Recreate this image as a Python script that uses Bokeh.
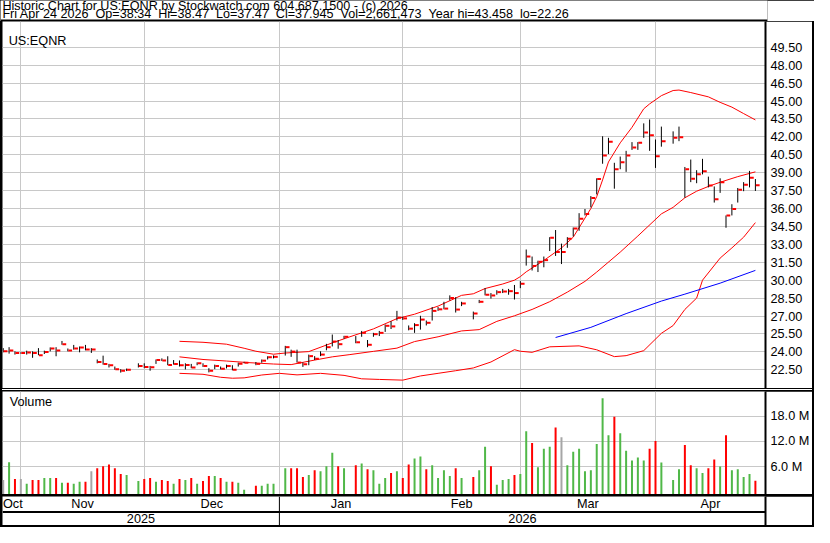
import numpy as np
import pandas as pd
from bokeh.plotting import figure
from bokeh.layouts import column
from bokeh.models import (Range1d, LinearAxis, FixedTicker, PrintfTickFormatter,
                          Label, ColumnDataSource, Div, Grid, Span)
from bokeh.embed import file_html
from bokeh.resources import INLINE
from bokeh.core.properties import value

# ---------------------------------------------------------------- data
TICKER = "US:EQNR"
TITLE = "Historic Chart for US:EQNR by Stockwatch.com 604.687.1500 - (c) 2026"
LAST_FIELDS = ["Fri Apr 24 2026", "Op=38.34", "Hi=38.47", "Lo=37.47", "Cl=37.945",
               "Vol=2,661,473", "Year hi=43.458", "lo=22.26"]

FIRST_DAY = "2025-10-28"          # first weekday slot on the chart
LAST_DAY = "2026-04-24"           # last weekday slot on the chart
HOLIDAYS = ["2025-11-27", "2025-12-25", "2026-01-01", "2026-01-19",
            "2026-02-16", "2026-04-03"]   # empty weekday slots

PREV_CLOSE = 24.04                # close of the day before the first bar

HIGH = [
    24.31, 24.39, 24.04, 23.95, 24.10, 24.04, 24.31, 24.10, 24.37, 24.39,
    24.91, 24.28, 24.58, 24.45, 24.58, 24.31, 23.36, 23.68, 22.99, 22.77,
    22.55, 22.60,
    23.04, 23.04, 22.82, 23.36, 23.45, 23.63, 23.31, 23.28, 23.04, 22.99,
    23.12, 23.04, 22.63, 22.93, 22.77, 22.93, 22.88, 23.09, 23.17,
    23.15, 23.36, 23.63, 23.70,
    24.50, 24.18, 24.18, 23.10, 23.77, 23.64, 24.04, 24.67, 25.45, 24.99, 25.34,
    25.32, 25.75, 24.99, 25.59, 25.75, 26.29, 26.56, 27.43, 26.94, 26.21,
    26.40, 27.02, 26.62, 27.75, 27.75, 28.19, 28.73, 28.57, 28.19,
    27.37, 28.35, 29.33, 28.92, 29.16, 29.27, 29.27, 29.60, 29.92, 32.57,
    31.98, 31.63, 31.98, 33.60, 34.20, 33.06, 33.60, 34.41, 35.61, 35.96,
    37.04, 38.53, 42.05, 41.92, 39.83, 40.35, 40.83, 41.56, 41.56, 43.13,
    43.458, 41.78, 42.86,
    42.46, 42.86, 39.48, 40.10, 39.21, 40.16, 38.67, 37.85, 38.53, 35.42,
    36.36, 37.72, 38.21, 39.15, 38.47,
]
LOW = [
    23.96, 23.85, 23.77, 23.85, 23.77, 23.50, 23.72, 23.82, 24.04, 23.63,
    24.59, 24.04, 24.18, 23.96, 24.12, 23.91, 23.04, 22.93, 22.69, 22.50,
    22.26, 22.39,
    22.69, 22.63, 22.42, 22.99, 23.23, 22.88, 22.93, 22.77, 22.53, 22.63,
    22.88, 22.74, 22.28, 22.55, 22.53, 22.61, 22.45, 22.77, 23.04,
    22.88, 23.09, 23.36, 23.45,
    23.69, 23.58, 23.10, 22.74, 22.88, 23.31, 23.64, 24.13, 24.45, 24.26, 25.10,
    24.72, 25.26, 24.39, 25.26, 25.32, 25.67, 25.91, 26.62, 26.67, 25.80,
    25.59, 25.86, 26.21, 26.62, 27.43, 27.56, 28.30, 27.29, 27.83,
    26.72, 28.08, 28.73, 28.46, 28.78, 28.92, 28.78, 28.38, 29.33, 31.22,
    30.81, 30.68, 31.08, 32.44, 32.03, 31.35, 32.71, 33.66, 34.14, 35.42,
    36.10, 37.18, 39.75, 40.56, 37.66, 39.29, 39.07, 40.91, 40.91, 41.92,
    40.83, 39.40, 41.18,
    41.43, 41.64, 36.91, 38.21, 38.12, 38.86, 37.77, 36.50, 37.31, 34.39,
    35.42, 36.50, 37.45, 37.77, 37.47,
]
CLOSE = [
    24.04, 24.12, 23.90, 23.90, 23.95, 23.90, 23.72, 23.99, 24.28, 24.12,
    24.64, 24.12, 24.28, 24.37, 24.20, 24.20, 23.15, 22.99, 22.88, 22.55,
    22.42, 22.50,
    22.82, 22.74, 22.70, 23.31, 23.28, 22.90, 22.99, 22.88, 22.90, 22.69,
    23.04, 22.82, 22.42, 22.82, 22.58, 22.82, 22.50, 23.01, 23.09,
    22.99, 23.26, 23.55, 23.58,
    24.39, 24.02, 23.10, 22.96, 23.64, 23.42, 23.77, 24.39, 24.86, 24.64, 25.26,
    24.80, 25.59, 24.59, 25.48, 25.59, 26.18, 26.13, 26.86, 26.80, 25.94,
    26.24, 26.70, 26.43, 27.43, 27.56, 27.62, 28.51, 27.54, 28.05,
    27.21, 28.19, 28.78, 28.72, 29.00, 29.05, 29.08, 28.92, 29.70, 31.98,
    31.19, 31.54, 31.68, 33.55, 32.35, 32.35, 33.47, 34.33, 35.15, 35.55,
    36.88, 38.48, 40.43, 41.59, 39.29, 39.88, 40.43, 41.10, 41.51, 42.37,
    42.13, 40.37, 41.64,
    41.92, 41.97, 39.29, 38.50, 38.88, 39.13, 37.93, 36.77, 38.20, 35.42,
    35.96, 37.58, 37.99, 38.58, 37.945,
]
VOLUME_M = [
    2.84, 7.06, 3.07, 3.07, 1.92, 2.84, 2.84, 3.30, 3.30, 3.30,
    2.15, 2.15, 1.92, 2.38, 2.38, 4.91, 5.60, 6.07, 6.53, 5.60,
    4.22, 3.99,
    2.61, 3.07, 3.30, 2.38, 2.84, 2.61, 1.92, 3.07, 2.84, 3.30,
    1.92, 2.61, 3.76, 3.76, 3.30, 2.38, 2.38, 2.15, 0.53,
    1.46, 1.46, 1.92, 1.92,
    5.61, 5.61, 5.61, 3.53, 4.00, 5.15, 4.92, 6.07, 9.30, 6.07, 5.61,
    6.30, 6.77, 5.38, 5.15, 1.92, 3.30, 4.46, 4.92, 3.30, 6.53,
    7.92, 8.38, 5.38, 6.30, 3.30, 5.15, 3.76, 5.61, 3.30,
    3.53, 5.15, 10.69, 6.07, 1.69, 2.84, 3.07, 4.00, 4.23, 14.38,
    11.61, 5.84, 10.23, 10.69, 15.30, 13.00, 6.30, 9.53, 10.23, 4.92,
    5.15, 11.38, 22.23, 13.46, 17.84, 13.92, 9.77, 7.46, 8.15, 7.46,
    10.23, 12.07, 7.00,
    2.84, 5.38, 11.15, 6.30, 5.61, 4.46, 5.61, 7.69, 6.00, 13.46,
    5.15, 5.38, 3.53, 4.23, 2.66,
]

# Bollinger bands and long moving average (slot number, value)
BB_UPPER_SLOT = [30, 34, 38, 41, 43, 46, 48, 52, 56, 59, 63, 67, 70, 74, 78, 80, 82, 85,
                 87, 88, 89, 92, 95, 97, 99, 100, 101, 102, 103, 105, 107, 109, 110,
                 112, 114, 115, 117, 120, 122, 124, 126, 128]
BB_UPPER = [24.88, 24.80, 24.64, 24.30, 24.05, 23.80, 23.90, 24.02, 24.75, 25.26, 25.92,
            26.78, 27.15, 27.83, 28.73, 28.86, 29.30, 29.68, 30.00, 30.30, 30.70, 31.65,
            32.70, 33.60, 35.20, 36.00, 37.00, 38.40, 39.90, 41.50, 42.80, 44.35, 44.76,
            45.45, 45.88, 45.92, 45.71, 45.35, 44.89, 44.49, 43.95, 43.42]
BB_MID_SLOT = [30, 34, 38, 42, 46, 49, 53, 56, 59, 63, 67, 70, 74, 78, 81, 84, 87, 90,
               93, 96, 99, 101, 105, 108, 112, 114, 116, 118, 120, 122, 125, 128]
BB_MID = [23.58, 23.36, 23.23, 23.09, 22.98, 22.93, 23.31, 23.58, 23.77, 24.04, 24.31,
          24.86, 25.26, 25.75, 25.86, 26.55, 27.02, 27.55, 28.20, 29.00, 29.90, 30.68,
          32.35, 33.70, 35.55, 36.10, 36.90, 37.45, 37.85, 38.20, 38.67, 39.07]
BB_LOWER_SLOT = [30, 34, 37, 39, 41, 44, 47, 50, 54, 58, 61, 64, 68, 71, 74, 77, 80, 83,
                 87, 88, 90, 93, 98, 101, 104, 106, 109, 112, 114, 116, 118, 119, 122,
                 124, 126, 128]
BB_LOWER = [22.20, 22.12, 21.87, 21.79, 21.82, 22.06, 22.20, 22.07, 22.20, 22.03, 21.74,
            21.69, 21.63, 21.98, 22.20, 22.42, 22.65, 23.15, 24.18, 24.05, 23.96, 24.42,
            24.50, 24.17, 23.60, 23.68, 24.10, 25.55, 26.20, 27.55, 28.50, 30.00, 31.85,
            32.70, 33.60, 34.82]
MA_SLOT = [94, 100, 106, 112, 116, 122, 128]
MA = [25.20, 26.05, 27.20, 28.25, 28.83, 29.75, 30.82]

PRICE_TICKS = [22.5, 24.0, 25.5, 27.0, 28.5, 30.0, 31.5, 33.0, 34.5, 36.0, 37.5,
               39.0, 40.5, 42.0, 43.5, 45.0, 46.5, 48.0, 49.5]
VOLUME_TICKS = [6.0, 12.0, 18.0]          # millions
MONTH_STARTS = ["2025-11-01", "2025-12-01", "2026-01-01", "2026-02-01",
                "2026-03-01", "2026-04-01"]
MONTH_LABELS = ["Oct", "Nov", "Dec", "Jan", "Feb", "Mar", "Apr"]
YEAR_START = "2026-01-01"
YEAR_LABELS = ["2025", "2026"]

# ---------------------------------------------------------------- style / layout
FONT = "Liberation Sans"
FS = "12.7px"
HEAD_FS = "12.6px"
GRID = "#c8c8c8"
UP, DOWN, FLAT = "#50b848", "#ff0000", "#a6a6a6"
W = 814
FIG_W = 810
RIGHT = 46
HEAD_H, PRICE_H, VOL_H, AX_H = 21, 367, 103, 29
X_RANGE = (-0.12, 129.72)
PRICE_RANGE = (20.93, 51.66)
VOL_RANGE = (-0.62, 23.84)

# ---------------------------------------------------------------- derived
slot_dates = pd.bdate_range(FIRST_DAY, LAST_DAY)
hol = set(pd.to_datetime(HOLIDAYS))
trade_dates = [d for d in slot_dates if d not in hol]
slot_of = {d: i for i, d in enumerate(slot_dates)}
xs = [slot_of[d] for d in trade_dates]
assert len(xs) == len(CLOSE) == len(HIGH) == len(LOW) == len(VOLUME_M)

prev = [PREV_CLOSE] + CLOSE[:-1]
colors = [UP if c > p else (DOWN if c < p else FLAT) for c, p in zip(CLOSE, prev)]


def last_slot(day):
    t = pd.Timestamp(day).to_datetime64()
    return int(np.searchsorted(slot_dates.values, t, side="right")) - 1


month_bounds = [last_slot(d) for d in MONTH_STARTS]
edges = [X_RANGE[0]] + month_bounds + [X_RANGE[1]]
month_centers = [(a + b) / 2 for a, b in zip(edges[:-1], edges[1:])]
month_centers[0] = max(month_centers[0], X_RANGE[0] + 1.75)
year_bound = last_slot(YEAR_START)
year_centers = [(X_RANGE[0] + year_bound) / 2, (year_bound + X_RANGE[1]) / 2]

src = ColumnDataSource(dict(
    x=xs, hi=HIGH, lo=LOW, cl=CLOSE, vol=VOLUME_M, color=colors,
    t0=[v + 0.08 for v in xs], t1=[v + 0.72 for v in xs],
))

xr = Range1d(*X_RANGE)


def make_fig(w, h, x_range, y_range, right=0):
    f = figure(width=w, height=h, x_range=x_range, y_range=y_range,
               output_backend="svg", toolbar_location=None,
               x_axis_type=None, y_axis_type=None,
               min_border_left=0, min_border_right=right,
               min_border_top=0, min_border_bottom=0)
    f.title.visible = False
    f.outline_line_color = None
    f.background_fill_color = "white"
    f.border_fill_color = "white"
    return f


def style_axis(ax):
    ax.axis_line_color = "black"
    ax.axis_line_width = 2
    ax.major_tick_line_color = None
    ax.minor_tick_line_color = None
    ax.major_tick_out = 0
    ax.major_tick_in = 0
    ax.major_label_standoff = 5
    ax.major_label_text_font = FONT
    ax.major_label_text_font_size = FS
    ax.major_label_text_color = "black"


# ---------------------------------------------------------------- header
head = make_fig(W, HEAD_H, Range1d(0, W), Range1d(0, HEAD_H))
head.add_layout(Span(location=1.0, dimension="width", line_color="black", line_width=2))
SEP = "\u00a0\u00a0"
head.text(x=[2], y=[15.7], text=[TITLE],
          text_font=value(FONT), text_font_size=value(HEAD_FS), text_color="black",
          text_baseline="middle", text_align="left")
head.text(x=[2], y=[7.05], text=[SEP.join(LAST_FIELDS)],
          text_font=value(FONT), text_font_size=value(HEAD_FS), text_color="black",
          text_baseline="middle", text_align="left")

# ---------------------------------------------------------------- price panel
p = make_fig(FIG_W, PRICE_H, xr, Range1d(*PRICE_RANGE), right=RIGHT)
pax = LinearAxis(ticker=FixedTicker(ticks=PRICE_TICKS),
                 formatter=PrintfTickFormatter(format="%.2f"))
style_axis(pax)
p.add_layout(pax, "right")
p.add_layout(Grid(dimension=1, ticker=FixedTicker(ticks=PRICE_TICKS),
                  grid_line_color=GRID, grid_line_width=1))
p.add_layout(Grid(dimension=0, ticker=FixedTicker(ticks=month_bounds),
                  grid_line_color=GRID, grid_line_width=1))

p.line(BB_UPPER_SLOT, BB_UPPER, line_color="#ff0000", line_width=1)
p.line(BB_MID_SLOT, BB_MID, line_color="#ff0000", line_width=1)
p.line(BB_LOWER_SLOT, BB_LOWER, line_color="#ff0000", line_width=1)
p.line(MA_SLOT, MA, line_color="#0000ff", line_width=1)

p.segment(x0="x", y0="lo", x1="x", y1="hi", source=src, line_color="black", line_width=1)
p.segment(x0="t0", y0="cl", x1="t1", y1="cl", source=src, line_color="#ff0000", line_width=2)

p.add_layout(Label(x=6.2, y=PRICE_H - 19.5, x_units="screen", y_units="screen",
                   text=TICKER, text_font=FONT, text_font_size=FS,
                   text_baseline="middle", text_color="black"))
p.margin = (0, 2, 1, 2)

spacer = Div(width=FIG_W, height=1, styles={"background-color": "white"})
spacer.margin = (0, 2, 1, 2)

# ---------------------------------------------------------------- volume panel
v = make_fig(FIG_W, VOL_H, xr, Range1d(*VOL_RANGE), right=RIGHT)
vax = LinearAxis(ticker=FixedTicker(ticks=VOLUME_TICKS),
                 formatter=PrintfTickFormatter(format="%.1f M"))
style_axis(vax)
v.add_layout(vax, "right")
v.add_layout(Grid(dimension=1, ticker=FixedTicker(ticks=VOLUME_TICKS),
                  grid_line_color=GRID, grid_line_width=1))
v.add_layout(Grid(dimension=0, ticker=FixedTicker(ticks=month_bounds),
                  grid_line_color=GRID, grid_line_width=1))
v.vbar(x="x", top="vol", bottom=VOL_RANGE[0], width=0.34, source=src,
       fill_color="color", line_color=None)
v.add_layout(Label(x=7.2, y=VOL_H - 10.0, x_units="screen", y_units="screen",
                   text="Volume", text_font=FONT, text_font_size=FS,
                   text_baseline="middle", text_color="black"))
v.margin = (0, 2, 2, 2)

# ---------------------------------------------------------------- date rows
a = make_fig(FIG_W, AX_H, xr, Range1d(0, AX_H), right=RIGHT)
aax = LinearAxis(ticker=FixedTicker(ticks=[]))
style_axis(aax)
aax.major_label_text_font_size = "0px"
a.add_layout(aax, "right")
a.add_layout(Span(location=13.5, dimension="width", line_color="black", line_width=2))
a.add_layout(Span(location=year_bound, dimension="height", line_color="black", line_width=1))
a.text(x=month_centers, y=[22.0] * len(MONTH_LABELS), text=MONTH_LABELS,
       text_font=value(FONT), text_font_size=value(FS), text_color="black",
       text_align="center", text_baseline="middle")
a.text(x=year_centers, y=[6.6] * len(YEAR_LABELS), text=YEAR_LABELS,
       text_font=value(FONT), text_font_size=value(FS), text_color="black",
       text_align="center", text_baseline="middle")
a.margin = (0, 2, 2, 2)

layout = column(head, p, spacer, v, a, spacing=0,
                styles={"background-color": "black"})

open("out.html", "w").write(file_html(layout, INLINE))
